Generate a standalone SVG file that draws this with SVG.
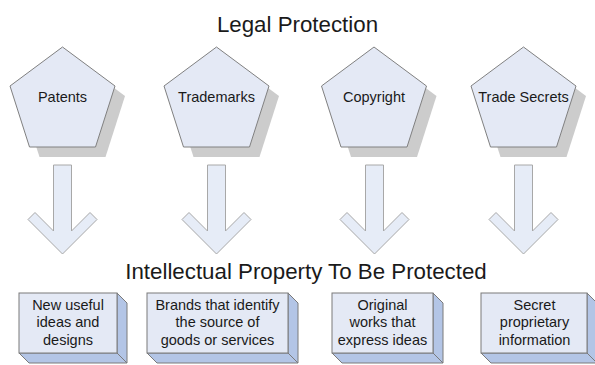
<svg xmlns="http://www.w3.org/2000/svg" xmlns:xlink="http://www.w3.org/1999/xlink" width="595" height="365" viewBox="0 0 595 365">
<style>
text{font-family:"Liberation Sans",Arial,sans-serif;fill:#1a1a1a;text-anchor:middle}
.title{font-size:22.3px}
.lbl{font-size:14.5px}
.pent{fill:#e4e9f5;stroke:#808080;stroke-width:1}
.shadow{fill:#cccccc;stroke:none}
.arrow{fill:#e6ecf7;stroke:#a8a8a8;stroke-width:1}
.front{fill:#e4e9f5;stroke:#7a7a7a;stroke-width:1}
.side{fill:#b3c5e6;stroke:#7a7a7a;stroke-width:1}
</style>
<defs>
<polygon id="pentShape" points="0,47 52.5,86 33,147 -33,147 -52.5,86"/>
<path id="arrowShape" d="M-9 165 H9 V231 L27.5 212.5 L34.5 219.5 L0 254 L-34.5 219.5 L-27.5 212.5 L-9 231 Z"/>
</defs>
<rect width="595" height="365" fill="#ffffff"/>
<text class="title" x="297.5" y="32">Legal Protection</text>
<text class="title" x="306" y="278.5">Intellectual Property To Be Protected</text>

<g id="patents" transform="translate(62.5,0)">
<use href="#pentShape" class="shadow" transform="translate(10,10)"/>
<use href="#pentShape" class="pent"/>
<text class="lbl" x="0" y="101.5">Patents</text>
</g>
<g id="trademarks" transform="translate(216.5,0)">
<use href="#pentShape" class="shadow" transform="translate(10,10)"/>
<use href="#pentShape" class="pent"/>
<text class="lbl" x="0" y="101.5">Trademarks</text>
</g>
<g id="copyright" transform="translate(374,0)">
<use href="#pentShape" class="shadow" transform="translate(10,10)"/>
<use href="#pentShape" class="pent"/>
<text class="lbl" x="0" y="101.5">Copyright</text>
</g>
<g id="tradesecrets" transform="translate(523.5,0)">
<use href="#pentShape" class="shadow" transform="translate(10,10)"/>
<use href="#pentShape" class="pent"/>
<text class="lbl" x="0" y="101.5">Trade Secrets</text>
</g>

<g id="connectors">
<use href="#arrowShape" class="arrow" transform="translate(62.5,0)"/>
<use href="#arrowShape" class="arrow" transform="translate(216.5,0)"/>
<use href="#arrowShape" class="arrow" transform="translate(374.5,0)"/>
<use href="#arrowShape" class="arrow" transform="translate(523.5,0)"/>
</g>

<g id="box1">
<polygon class="side" points="117,293 127,303 127,363 117,353"/>
<polygon class="side" points="19,353 117,353 127,363 29,363"/>
<rect class="front" x="19" y="293" width="98" height="60"/>
<text class="lbl" x="68" y="309.5">New useful</text>
<text class="lbl" x="68" y="327">ideas and</text>
<text class="lbl" x="68" y="344.5">designs</text>
</g>
<g id="box2">
<polygon class="side" points="288,293 298,303 298,363 288,353"/>
<polygon class="side" points="147,353 288,353 298,363 157,363"/>
<rect class="front" x="147" y="293" width="141" height="60"/>
<text class="lbl" x="217.5" y="309.5">Brands that identify</text>
<text class="lbl" x="217.5" y="327">the source of</text>
<text class="lbl" x="217.5" y="344.5">goods or services</text>
</g>
<g id="box3">
<polygon class="side" points="433,293 443,303 443,363 433,353"/>
<polygon class="side" points="332,353 433,353 443,363 342,363"/>
<rect class="front" x="332" y="293" width="101" height="60"/>
<text class="lbl" x="382.5" y="309.5">Original</text>
<text class="lbl" x="382.5" y="327">works that</text>
<text class="lbl" x="382.5" y="344.5">express ideas</text>
</g>
<g id="box4">
<polygon class="side" points="587,293 597,303 597,363 587,353"/>
<polygon class="side" points="481,353 587,353 597,363 491,363"/>
<rect class="front" x="481" y="293" width="106" height="60"/>
<text class="lbl" x="534.5" y="309.5">Secret</text>
<text class="lbl" x="534.5" y="327">proprietary</text>
<text class="lbl" x="534.5" y="344.5">information</text>
</g>
</svg>
